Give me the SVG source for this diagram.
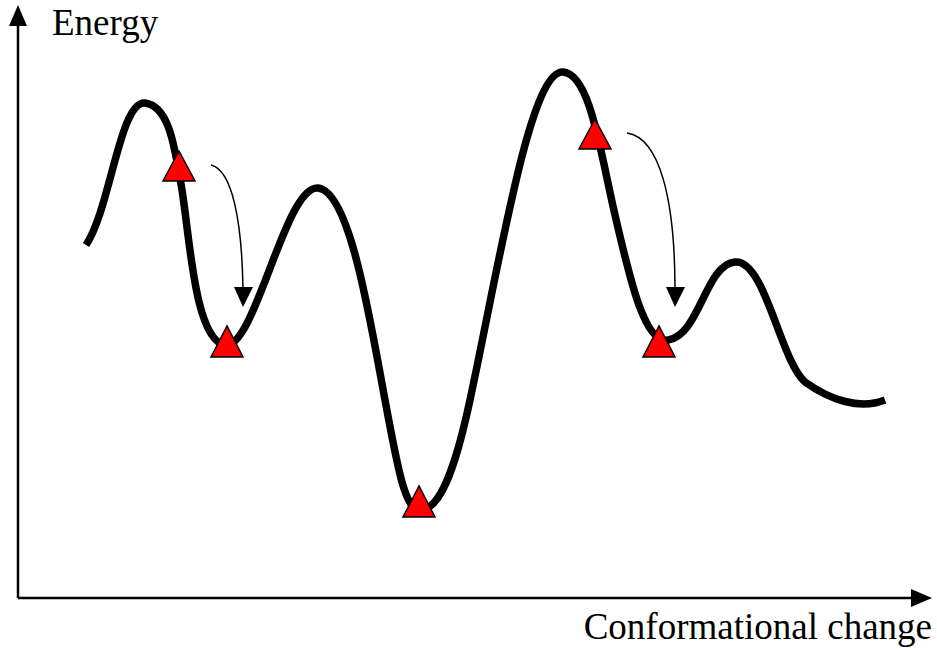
<svg xmlns="http://www.w3.org/2000/svg" width="937" height="650" viewBox="0 0 937 650">
<style>
.axis{stroke:#000;stroke-width:2.5;fill:none}
.curve{stroke:#000;stroke-width:7.5;fill:none;stroke-linejoin:round;stroke-linecap:butt}
.tri{fill:#ff0000;stroke:#000;stroke-width:1.5;stroke-linejoin:miter}
.arr{stroke:#000;stroke-width:1.5;fill:none}
</style>
<rect width="937" height="650" fill="#fff"/>
<g id="axes">
<line class="axis" x1="18" y1="598" x2="18" y2="22"/>
<polygon points="18,5 9,26 27,26" fill="#000"/>
<line class="axis" x1="18" y1="598" x2="914" y2="598"/>
<polygon points="932,598 911,589 911,607" fill="#000"/>
</g>
<g id="energy-curve">
<path class="curve" d="M86,245 C110,210 120,100 145,103 C170,106 175,150 182,190 C190,240 195,340 225,345 C255,350 285,185 318,188 C350,191 370,320 385,400 C398,470 405,510 420,510 C440,510 455,470 470,400 C500,260 530,70 563,72 C590,74 600,150 615,215 C630,280 645,345 668,340 C700,335 705,265 735,262 C765,259 780,360 805,382 C830,400 860,410 885,400"/>
</g>
<g id="connectors">
<path class="arr" d="M211,165 C232,170 242,220 243,290"/>
<polygon points="243,307 234,287 253,287" fill="#000"/>
<path class="arr" d="M627,133 C660,138 675,200 675,290"/>
<polygon points="675,307 666,287 685,287" fill="#000"/>
</g>
<g id="state1"><polygon class="tri" points="179,151 163,181 195,181"/></g>
<g id="state2"><polygon class="tri" points="227,326 211,357 243,357"/></g>
<g id="state3"><polygon class="tri" points="419,486 403,517 435,517"/></g>
<g id="state4"><polygon class="tri" points="595,119 579,149 611,149"/></g>
<g id="state5"><polygon class="tri" points="659,326 643,357 675,357"/></g>
<g id="labels" font-family="Liberation Serif, Times New Roman, DejaVu Serif, serif" font-size="37" fill="#000">
<text x="52" y="35">Energy</text>
<text x="932" y="639" text-anchor="end">Conformational change</text>
</g>
</svg>
